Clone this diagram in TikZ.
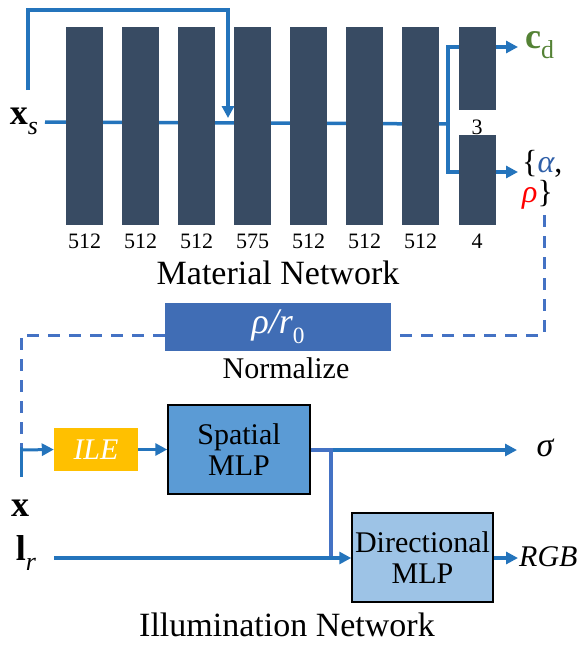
\documentclass[tikz,border=0pt]{standalone}
\usepackage{fontspec}
\setmainfont{Liberation Serif}
\newfontfamily\tnr{Liberation Serif}
\usetikzlibrary{arrows.meta,positioning,calc}
\definecolor{barc}{HTML}{384B63}
\definecolor{linec}{HTML}{2474BC}
\definecolor{dashc}{HTML}{4472C4}
\definecolor{normc}{HTML}{406DB5}
\definecolor{ilec}{HTML}{FFC000}
\definecolor{spc}{HTML}{5B9BD5}
\definecolor{dirc}{HTML}{9DC3E6}
\definecolor{greenc}{HTML}{548235}
\definecolor{alphac}{HTML}{2F5FA8}
\newcommand{\mysub}[1]{\raisebox{-0.28em}{\scalebox{0.72}{#1}}}
\pgfdeclarelayer{bg}
\pgfsetlayers{bg,main}
\begin{document}
\begin{tikzpicture}[x=1pt,y=-1pt,
 bar/.style={fill=barc, draw=none, inner sep=0, minimum width=37pt},
 flow/.style={draw=linec, line width=3.5pt, -{Triangle[length=12pt,width=12pt]}},
 plain/.style={draw=linec, line width=3.5pt},
 dashline/.style={draw=dashc, line width=3pt, dash pattern=on 12pt off 9pt},
 mlp/.style={draw=black, line width=1.5pt, align=center, inner sep=0, font=\tnr\fontsize{30}{31}\selectfont},
 lab/.style={font=\tnr\fontsize{22}{24}\selectfont, inner sep=0},
 big/.style={font=\tnr\fontsize{34}{36}\selectfont, inner sep=0}
]
\useasboundingbox (0,0) rectangle (582,651);

% Material network
\node[big, font=\tnr\fontsize{36}{38}\selectfont] (xs) at (24,121) {\textbf{x}\mysub{\itshape s}};
\coordinate (mstart) at (45,122);
\coordinate (br) at (448,124);
\coordinate (loopstart) at (28,90);
\coordinate (loopend) at (228,118);
\foreach \i/\x/\t in {1/84.5/512,2/140.5/512,3/196.5/512,4/252.5/575,5/308.5/512,6/364.5/512,7/420.5/512}{
  \node[bar, minimum height=198pt] (b\i) at (\x,126) {};
  \node[lab] (l\i) at (\x,241) {\t};
}
\node[bar, minimum height=83pt] (bt) at (477,68.5) {};
\node[bar, minimum height=90pt] (bb) at (477,180) {};
\node[lab] (l3) at (477,127) {3};
\node[lab] (l4) at (477,241) {4};
\node[big] (mat) at (278,273) {Material Network};

\node[big, font=\tnr\fontsize{36}{38}\selectfont, anchor=west, text=greenc] (cd) at (525,45) {\textbf{c}\mysub{d}};
\node[big, font=\tnr\fontsize{32}{30}\selectfont, align=left, anchor=west] (ar) at (522,180) {\{\textcolor{alphac}{\itshape α},\\ \textcolor{red}{\itshape ρ}\}};
\coordinate (cdtip) at (518,47);
\coordinate (artip) at (518,172);

\begin{pgfonlayer}{bg}
\draw[plain] (mstart) -- (br);
\draw[flow] (loopstart) -- (28,10) -| (loopend);
\draw[flow] (br) |- (cdtip);
\draw[flow] (br) |- (artip);
\end{pgfonlayer}

% Normalize
\node[fill=normc, minimum width=226pt, minimum height=48pt, inner sep=0, text=white, font=\tnr\fontsize{36}{38}\selectfont] (norm) at (278,327) {\itshape ρ/r\mysub{\upshape\scalebox{0.9}{0}}};
\node[big, font=\tnr\fontsize{30}{32}\selectfont] (normlab) at (286,368) {Normalize};
\coordinate (dstart) at (544,215);
\coordinate (dashy) at (0,335);
\coordinate (dleft) at (21,335);
\coordinate (dend) at (21,447);
\draw[dashline] (dstart) -- (dstart |- dashy) -- (norm.east |- dashy);
\draw[dashline] (norm.west |- dashy) -- (dleft) -- (dend);

% Illumination network
\node[fill=ilec, minimum width=84pt, minimum height=43pt, inner sep=0, text=white, font=\tnr\fontsize{30}{31}\selectfont\itshape] (ile) at (96,449.5) {ILE};
\node[mlp, fill=spc, minimum width=142pt, minimum height=89pt] (sp) at (239,449.5) {Spatial\\MLP};
\node[mlp, fill=dirc, minimum width=141pt, minimum height=89pt] (dir) at (422.5,557.5) {Directional\\MLP};
\coordinate (xtop) at (21,447);
\coordinate (xbot) at (21,477);
\coordinate (xin) at (21,450);
\draw[plain, line width=3pt] (xtop) -- (xbot);
\draw[flow, line width=3pt] (xin) -- (ile.west);
\draw[flow] (ile.east) -- (sp.west);

\node[big, font=\tnr\fontsize{36}{38}\selectfont] (xlab) at (20,508) {\textbf{x}};
\node[big, font=\tnr\fontsize{36}{38}\selectfont] (lr) at (26,553) {\textbf{l}\mysub{\itshape r}};
\coordinate (lrstart) at (54,558);
\coordinate (sigtip) at (517,450);
\node[big, font=\tnr\fontsize{34}{36}\selectfont\itshape] (sig) at (545,448) {σ};
\coordinate (bp) at (331,450);
\coordinate (bq) at (331,558);
\coordinate (rgbtip) at (518,558);
\node[big, anchor=west, font=\tnr\fontsize{30}{31}\selectfont\itshape] (rgb) at (519,557) {RGB};

\begin{pgfonlayer}{bg}
\draw[flow] (sp.east |- sigtip) -- (sigtip);
\draw[draw=dashc, line width=3.5pt] (sp.east |- bp) -- (bp) -- (bq);
\draw[flow] (lrstart) -- (dir.west |- lrstart);
\draw[flow] (dir.east |- rgbtip) -- (rgbtip);
\end{pgfonlayer}

\node[big] (ill) at (287,625) {Illumination Network};
\end{tikzpicture}
\end{document}
